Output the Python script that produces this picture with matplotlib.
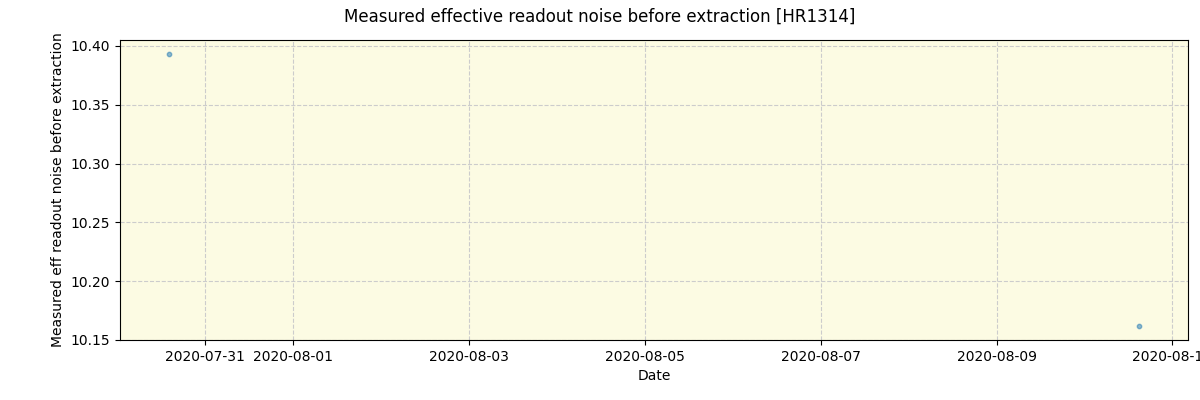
import numpy as np
import pandas as pd
import matplotlib
matplotlib.use("Agg")
import matplotlib.pyplot as plt

# data
dates = pd.to_datetime(["2020-07-30 14:00", "2020-08-10 15:00"])
noise = [10.3935, 10.1615]

fig = plt.figure(figsize=(12, 4), dpi=100)
ax = fig.add_axes([0.1, 0.15, 0.89, 0.75])
ax.set_facecolor("#fcfbe3")

ax.scatter(dates, noise, s=10, color="#1f77b4", alpha=0.5, zorder=3)

ax.grid(True, linestyle="--", color="#cccccc", linewidth=0.8)
ax.set_axisbelow(True)

ax.set_xlabel("Date")
ax.set_ylabel("Measured eff readout noise before extraction")
fig.suptitle("Measured effective readout noise before extraction [HR1314]", y=0.98)

ax.yaxis.set_major_formatter(matplotlib.ticker.FormatStrFormatter("%.2f"))

fig.savefig("out.png", dpi=100)
